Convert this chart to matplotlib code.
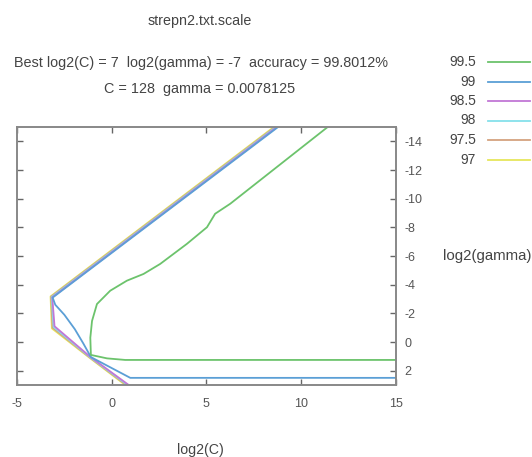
import matplotlib
matplotlib.use("Agg")
import matplotlib.pyplot as plt
from matplotlib.lines import Line2D

plt.rcParams['font.family'] = ['Liberation Sans', 'DejaVu Sans']
plt.rcParams['axes.unicode_minus'] = False

title = "strepn2.txt.scale"
best_line = "Best log2(C) = 7  log2(gamma) = -7  accuracy = 99.8012%"
c_line = "C = 128  gamma = 0.0078125"
x_label = "log2(C)"
y_label = "log2(gamma)"

levels = ["99.5", "99", "98.5", "98", "97.5", "97"]
colors = ["#6cc36c", "#5b9fd6", "#c277d6", "#86e0ea", "#d4a27f", "#e6e65c"]

# contour paths (log2(C), log2(gamma)) per level
x_995 = [11.4, 6.26, 5.46, 5.03, 3.97, 2.56, 1.68, 0.8, -0.08, -0.78, -1.04, -1.13, -1.1, -0.25, 0.71, 15.0]
y_995 = [-15.0, -9.65, -8.95, -8.01, -6.85, -5.45, -4.75, -4.28, -3.58, -2.65, -1.47, -0.3, 0.9, 1.14, 1.25, 1.25]

x_99 = [8.78, -3.12, -2.98, -2.5, -1.95, -1.5, -1.1, 0.98, 15.0]
y_99 = [-15.0, -3.1, -2.6, -1.9, -0.9, 0.1, 1.05, 2.5, 2.5]

x_985 = [8.72, -3.14, -3.02, -1.12, 0.9]
y_985 = [-15.0, -3.12, -1.1, 1.05, 3.0]

x_98 = [8.67, -3.17, -3.07, -1.14, 0.84]
y_98 = [-15.0, -3.14, -1.05, 1.06, 3.0]

x_975 = [8.62, -3.2, -3.12, -1.16, 0.78]
y_975 = [-15.0, -3.16, -1.0, 1.07, 3.0]

x_97 = [8.56, -3.23, -3.16, -1.18, 0.72]
y_97 = [-15.0, -3.18, -0.95, 1.09, 3.0]

xs = [x_995, x_99, x_985, x_98, x_975, x_97]
ys = [y_995, y_99, y_985, y_98, y_975, y_97]

x_ticks = [-5, 0, 5, 10, 15]
y_ticks = [-14, -12, -10, -8, -6, -4, -2, 0, 2]

fig = plt.figure(figsize=(5.32, 4.57), dpi=100)
ax = fig.add_axes([0.032, 0.1575, 0.712, 0.5645])

# draw from outer to inner so inner are on top
for i in reversed(range(len(levels))):
    ax.plot(xs[i], ys[i], color=colors[i], lw=1.3, solid_joinstyle='round')

ax.set_xlim(-5, 15)
ax.set_ylim(3, -15)
ax.set_xticks(x_ticks)
ax.set_yticks(y_ticks)
ax.set_xticklabels([str(v) for v in x_ticks])
ax.set_yticklabels([str(v) for v in y_ticks])
ax.tick_params(axis='x', direction='in', top=True, bottom=True, length=4,
               width=1, color='#666666', labelsize=9, labelcolor='#555555', pad=9)
ax.tick_params(axis='y', direction='in', left=True, right=True, labelleft=False,
               labelright=True, length=4, width=1, color='#666666', labelsize=9,
               labelcolor='#555555', pad=6)
for s in ax.spines.values():
    s.set_color('#888888')
    s.set_linewidth(1.4)

tc = '#444444'
fig.text(200 / 532, 1 - 21 / 457, title, ha='center', va='center', fontsize=10.3, color=tc)
fig.text(201 / 532, 1 - 63 / 457, best_line, ha='center', va='center', fontsize=10.4, color=tc)
fig.text(200 / 532, 1 - 89 / 457, c_line, ha='center', va='center', fontsize=10.4, color=tc)
fig.text(200 / 532, 1 - 450 / 457, x_label, ha='center', va='center', fontsize=10.2, color=tc)
fig.text(487 / 532, 1 - 256 / 457, y_label, ha='center', va='center', fontsize=10.8, color=tc)

# legend
row_y = [62, 81.5, 101, 120.5, 140, 159.5]
for lab, col, yy in zip(levels, colors, row_y):
    yf = 1 - yy / 457
    fig.text(476 / 532, yf, lab, ha='right', va='center', fontsize=10, color=tc)
    fig.add_artist(Line2D([488 / 532, 530 / 532], [yf, yf], color=col, lw=1.3,
                          transform=fig.transFigure))

fig.savefig("out.png", dpi=100)
